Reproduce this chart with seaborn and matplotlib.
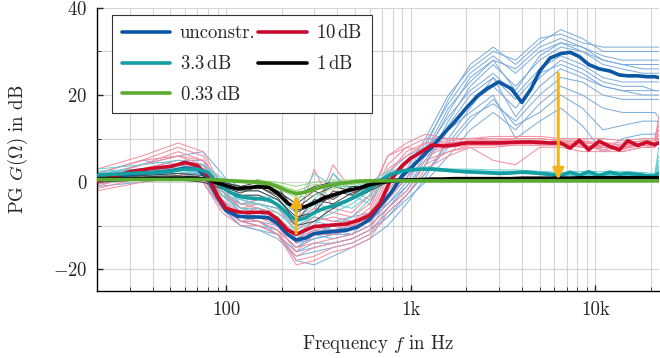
import matplotlib
matplotlib.use("Agg")
import matplotlib.pyplot as plt
import matplotlib.ticker as mticker
import seaborn as sns

# -----------------------
# Data
# -----------------------

FREQ = [20, 30, 40, 50, 60, 70, 80, 90, 100, 115, 130, 150, 170, 190, 215, 240, 270, 300,
        340, 390, 450, 520, 600, 680, 780, 900, 1000, 1150, 1300, 1500, 1700, 2000, 2300, 2600,
        3000, 3500, 4000, 4500, 5000, 5700, 6500, 7300, 8200, 9200, 10500, 12000, 13500, 15000,
        17000, 19000, 21000, 22050]

UNCONSTR = [0.5, 1.8, 2.2, 2.6, 3.2, 3.0, 0.6, -3.5,
            -6.5, -7.8, -8.0, -8.0, -8.2, -9.5, -12.0, -13.3, -12.8, -11.8,
            -11.5, -11.3, -11.0, -10.2, -8.5, -5.5, -2.5, 1.5,
            3.2, 5.8, 8.0, 11.0, 13.5, 17.0, 19.8, 21.5,
            23.0, 21.5, 18.3, 21.5, 25.5, 28.5, 29.5, 29.8,
            28.8, 27.0, 26.0, 25.5, 24.6, 24.4, 24.4, 24.2,
            24.2, 24.0]
DB10 = [0.2, 2.4, 3.2, 3.6, 4.5, 3.8, 1.4, -3.2,
        -6.0, -6.8, -7.0, -6.9, -7.0, -8.5, -11.0, -12.0, -11.0, -10.2,
        -10.0, -9.8, -9.6, -8.8, -7.6, -5.0, 0.5, 3.8,
        5.5, 7.0, 8.5, 8.3, 8.5, 9.0, 9.0, 9.0,
        9.0, 9.1, 9.2, 9.2, 9.1, 9.0, 9.0, 7.8,
        9.6, 7.4, 9.4, 8.2, 7.4, 9.5, 8.4, 9.2,
        8.6, 9.0]
DB3_3 = [1.6, 2.0, 2.2, 2.5, 3.0, 3.0, 2.2, -0.3,
         -1.8, -3.2, -3.6, -3.8, -4.0, -5.2, -7.2, -8.8, -8.2, -7.0,
         -6.0, -5.3, -4.3, -3.0, -1.5, 0.2, 1.8, 2.6,
         2.8, 3.0, 3.0, 2.8, 2.6, 2.4, 2.3, 2.2,
         2.0, 2.1, 2.3, 2.2, 2.0, 1.8, 1.5, 2.3,
         1.6, 2.4, 1.5, 2.3, 1.8, 2.0, 1.8, 1.5,
         1.4, 2.0]
DB1 = [0.8, 0.8, 0.8, 0.9, 0.9, 0.9, 0.6, -0.2,
       -0.8, -1.5, -1.3, -1.0, -1.2, -2.5, -4.8, -6.0, -5.6, -4.8,
       -3.6, -2.8, -2.0, -1.4, -0.6, -0.1, 0.2, 0.4,
       0.5, 0.6, 0.7, 0.7, 0.8, 0.8, 0.8, 0.8,
       0.8, 0.8, 0.9, 0.9, 0.9, 0.9, 0.9, 0.9,
       1.0, 1.0, 1.0, 1.0, 1.0, 1.0, 1.0, 1.0,
       1.0, 1.0]
DB0_33 = [0.6, 0.6, 0.6, 0.6, 0.6, 0.6, 0.6, 0.5,
          0.4, 0.2, 0.1, 0.0, -0.3, -1.0, -2.0, -2.6, -2.3, -1.6,
          -1.0, -0.5, -0.1, 0.2, 0.3, 0.3, 0.3, 0.3,
          0.3, 0.3, 0.3, 0.3, 0.3, 0.3, 0.3, 0.3,
          0.3, 0.3, 0.3, 0.3, 0.3, 0.3, 0.3, 0.3,
          0.3, 0.3, 0.3, 0.3, 0.3, 0.3, 0.3, 0.3,
          0.3, 0.3]

# individual runs, coarser frequency grid
FREQ_THIN = [20, 35, 55, 75, 95, 120, 150, 190, 240, 300, 380, 480, 600, 750, 950,
             1200, 1600, 2100, 2800, 3700, 5000, 6500, 8500, 11000, 14000, 18000, 21000, 22050]

UNCONSTR_RUNS = [
    [1.5, 4, 6, 7, 2, -4, -5, -6, -10, -8, -9, -8, -7, -2, 3, 10, 20, 26, 30, 28, 33, 34, 32, 31, 31, 31, 31, 31],
    [-1, 0, 1, 0, -6, -10, -11, -13, -17, -16, -15, -14, -12, -8, -4, 0, 6, 12, 16, 12, 18, 22, 20, 17, 16, 16, 16, 15],
    [2, 3, 4, 3, -3, -6, -7, -8, -12, -10, -11, -12, -10, -6, -1, 4, 14, 22, 27, 22, 28, 31, 30, 28, 27, 27, 27, 27],
    [0, 1, 2, 2, -5, -9, -9, -12, -16, -15, -14, -13, -11, -7, -3, 2, 9, 15, 18, 14, 20, 24, 23, 20, 19, 19, 19, 19],
    [1, 3, 5, 5, 0, -5, -4, -5, -9, -6, 2, -3, -5, 2, 6, 8, 12, 16, 20, 10, 14, 17, 13, 7, 10, 11, 11, 12],
    [0, 2, 3, 3, -4, -8, -9, -10, -14, -13, -12, -11, -9, -5, 0, 6, 16, 24, 28, 26, 31, 33, 31, 28, 27, 26, 26, 26],
    [1, 2, 2, 1, -6, -10, -11, -12, -18, -19, -17, -15, -13, -10, -5, 1, 10, 17, 24, 15, 22, 26, 24, 22, 21, 21, 21, 21],
    [0.5, 1, 3, 4, -3, -7, -6, -8, -13, -11, -12, -12, -8, -3, 2, 9, 18, 25, 29, 25, 30, 32, 30, 27, 26, 25, 25, 25],
    [2, 5, 4, 2, -6, -9, -8, -9, -14, -12, -10, -9, -8, -4, 1, 7, 15, 21, 25, 20, 26, 29, 27, 24, 23, 23, 23, 23],
    [-0.5, 1, 2, 1, -5, -8, -9, -11, -15, -12, -13, -12, -10, -6, -2, 4, 12, 18, 22, 17, 24, 28, 26, 23, 22, 22, 21, 21],
    [1, 3, 4, 3, -2, -7, -8, -9, -13, -10, -11, -10, -9, -4, 1, 8, 19, 27, 31, 27, 32, 35, 33, 30, 30, 30, 30, 30],
    [0, 1.5, 3, 2, -4, -9, -10, -11, -15, -13, -12, -11, -9, -5, -1, 5, 13, 20, 24, 19, 25, 27, 25, 22, 21, 20, 20, 20],
    [1.5, 2, 3, 4, -2, -6, -7, -9, -12, -9, -10, -11, -9, -4, 2, 7, 17, 23, 28, 21, 29, 32, 31, 29, 28, 28, 28, 28],
    [0, 0.5, 1, 1, -5, -9, -10, -12, -16, -14, -14, -13, -11, -8, -3, 2, 8, 14, 19, 13, 16, 20, 17, 12, 13, 14, 14, 14],
]
DB10_RUNS = [
    [2, 5, 8, 6, -2, -5, -4, -5, -9, -6, -7, -8, -5, 4, 8, 10, 10, 10, 10.5, 10.5, 10.5, 10, 10, 10, 9.5, 10, 10, 14],
    [-2, 0, 1, 0, -7, -10, -10, -12, -17, -15, -14, -13, -11, -4, 1, 5, 7, 8, 5, 4, 8, 8, 7, 7, 7, 8, 8, 9],
    [1, 4, 6, 4, -3, -5, -6, -7, -10, 3, -6, -7, -3, 6, 9, 11, 10, 10, 10, 10, 10, 9.5, 9, 9, 8.5, 9.5, 9, 12],
    [-1, 2, 3, 2, -6, -8, -9, -11, -15, -14, -13, -12, -10, -2, 3, 6, 8, 9, 9, 9, 9, 9, 8, 8, 7.5, 8.5, 8.5, 10],
    [0.5, 3, 5, 4, -4, -7, -6, -9, -13, -11, -10, -10, -8, 1, 5, 8, 9, 9.5, 9, 9, 9, 8.5, 9, 7, 8, 9, 8.5, 9],
    [-1.5, 1, 2, 1, -5, -8, -8, -10, -16, -12, -12, -11, -9, -3, 2, 7, 8, 8.5, 8.5, 8.5, 8.5, 8.5, 8, 8.5, 7, 8, 8, 11],
    [3, 6, 9, 7, -1, -6, -5, -6, -11, -8, -9, -9, -7, 2, 7, 9, 9, 9.5, 9.5, 9.5, 9.5, 9, 9.5, 8, 8.5, 9, 9, 15],
    [0, 2, 3, 2, -6, -9, -9, -11, -18, -17, -15, -14, -12, -6, -2, 4, 7, 8.5, 8.5, 9, 9, 9, 8.5, 8, 8, 8.5, 8.5, 10],
    [1, 4, 7, 5, -3, -5, -5, -6, -9, -7, 4, -2, -4, 6, 8, 7, 9, 9, 9, 9.5, 9.5, 9, 8, 8.5, 7.5, 9, 9, 10],
    [-0.5, 2, 4, 3, -5, -7, -8, -9, -14, -11, -11, -10, -9, 0, 4, 8, 8.5, 9, 9, 9, 9, 8.5, 9, 8.5, 8, 9, 8.5, 11],
    [0, 1, 2, 1, -6, -9, -10, -12, -19, -18, -16, -15, -13, -7, -3, 3, 6, 8, 8, 8.5, 8.5, 8.5, 8.5, 7.5, 8, 8.5, 8, 9],
    [2, 5, 6, 5, -2, -6, -6, -8, -12, -9, -8, -9, -6, 3, 6, 9, 9.5, 10, 9.5, 10, 10, 9.5, 9.5, 9, 9, 9.5, 9.5, 13],
]
DB3_3_RUNS = [
    [3, 4, 5, 4, 1, -1, -1, -2, -5, 2, -1, -1, 0, 2.5, 3, 3.5, 3, 3, 2.8, 2.8, 2.5, 2.2, 2.5, 2.4, 2.5, 2.2, 2, 6],
    [0, 1, 1, 2, -3, -6, -6, -8, -13, -12, -10, -8, -4, 1, 2.5, 2.8, 2.4, 2, 1.8, 2, 1.8, 1.2, 1.5, 1.5, 1.6, 1.4, 1.2, 3],
    [2, 3, 4, 4, 0, -3, -3, -4, -7, -4, 0, -3, -1, 2, 2.8, 3.2, 2.8, 2.5, 2.4, 2.4, 2.2, 1.8, 2, 2, 2, 1.8, 1.5, 8],
    [1, 1.5, 2, 3, -2, -5, -5, -7, -11, -9, -7, -5, -2, 1.5, 2.5, 2.9, 2.5, 2.2, 2, 2.1, 1.9, 1.4, 1.7, 1.6, 1.8, 1.5, 1.3, 4],
    [2.5, 3, 3, 2, -1, -2, -2, -4, -9, -5, -6, -4, -2, 2, 2.6, 3, 2.7, 2.4, 2.3, 2.3, 2.1, 1.6, 1.9, 1.8, 2, 1.7, 1.4, 2.5],
    [0.5, 1, 2, 2.5, -3, -4, -5, -6, -10, -8, 2, -2, -1, 1.8, 2.7, 3, 2.6, 2.3, 2.1, 2.2, 2, 1.5, 1.8, 1.8, 1.9, 1.6, 1.4, 5],
    [1.5, 2.5, 3.5, 3, -1.5, -3, -4, -5, -12, -10, -5, -6, -3, 1, 2.4, 3.1, 2.6, 2.2, 2.2, 2.2, 2, 1.6, 1.8, 1.7, 1.9, 1.6, 1.3, 3.5],
]
DB1_RUNS = [
    [1.5, 1.5, 2, 1.5, 0.5, 0, 0.5, -1, -3, -1, 0, 0, 0.5, 0.8, 0.8, 0.8, 0.9, 0.9, 1, 1, 1, 1, 1, 1, 1, 1, 1, 1.2],
    [0, 0.5, 0.5, 0, -1.5, -3, -3, -5, -10, -9, -6, -4, -2, 0, 0.3, 0.5, 0.6, 0.7, 0.8, 0.8, 0.8, 0.8, 0.8, 0.8, 0.9, 0.9, 0.9, 1],
    [1, 1, 1, 1, 0, -1, 0, -2, -5, -2, -4, -1, -1, 0.5, 0.6, 0.7, 0.8, 0.8, 0.9, 0.9, 0.9, 0.9, 0.9, 1, 1, 1, 1, 1],
    [0.5, 0.5, 1, 0.5, -1, -2, -2, -4, -8, -7, -2, -3, -0.5, 0.3, 0.5, 0.6, 0.7, 0.8, 0.8, 0.9, 0.9, 0.9, 0.9, 0.9, 0.9, 1, 1, 1],
    [1.2, 1.2, 1.5, 1, 0, -1, -1, -3, -6, -3, -1, -2, 0, 0.6, 0.7, 0.7, 0.8, 0.9, 1, 1, 1, 1, 1, 1, 1, 1, 1.1, 1.1],
    [0.2, 0.8, 0.8, 0.5, -0.5, -1.5, -1.5, -1, -7, -5, -3.5, -1, -1.5, 0.2, 0.4, 0.6, 0.7, 0.8, 0.9, 0.9, 0.9, 0.9, 0.9, 0.9, 1, 1, 1, 1],
    [0.8, 1, 1.2, 1, -1, -2.5, -1, -3.5, -9, -4, -5, -2.5, -1, 0.4, 0.5, 0.6, 0.7, 0.8, 0.9, 0.9, 0.9, 0.9, 0.9, 0.9, 1, 1, 1, 1],
]
DB0_33_RUNS = [
    [0.8, 0.8, 0.9, 0.8, 0.6, 0.5, 0.4, 0.0, -1.0, 0.0, 0.5, 0.5, 0.5, 0.5, 0.5, 0.5, 0.5, 0.5, 0.5, 0.5, 0.5, 0.5, 0.5, 0.5, 0.5, 0.5, 0.5, 0.5],
    [0.4, 0.4, 0.4, 0.4, 0.2, 0.0, -0.4, -1.5, -3.5, -3.0, -1.5, -0.5, 0.0, 0.2, 0.3, 0.3, 0.3, 0.2, 0.2, 0.2, 0.2, 0.2, 0.2, 0.2, 0.2, 0.2, 0.2, 0.2],
    [0.6, 0.7, 0.7, 0.6, 0.4, 0.2, 0.0, -0.5, -2.0, -0.5, -1.0, 0.0, 0.3, 0.4, 0.4, 0.4, 0.4, 0.4, 0.4, 0.4, 0.4, 0.4, 0.4, 0.4, 0.4, 0.4, 0.4, 0.4],
    [0.5, 0.5, 0.5, 0.5, 0.3, 0.0, -0.5, -1.0, -3.0, -2.0, 0.0, -0.5, 0.2, 0.3, 0.3, 0.3, 0.3, 0.3, 0.3, 0.3, 0.3, 0.3, 0.3, 0.3, 0.3, 0.3, 0.3, 0.3],
]

LABELS = ["unconstr.", r"$10\,\mathrm{dB}$", r"$3.3\,\mathrm{dB}$", r"$1\,\mathrm{dB}$", r"$0.33\,\mathrm{dB}$"]

# arrows (frequency, start, end)
ARROW_F = [240, 6300]
ARROW_FROM = [-11.8, 25.0]
ARROW_TO = [-3.0, 0.6]

# -----------------------
# Style
# -----------------------

sns.set_style("ticks")
plt.rcParams["font.family"] = "serif"
plt.rcParams["font.serif"] = ["cmr10", "DejaVu Serif"]
plt.rcParams["mathtext.fontset"] = "cm"
plt.rcParams["axes.formatter.use_mathtext"] = True
plt.rcParams["axes.unicode_minus"] = True

FS = 13.5
THICK = ["#0b57a4", "#cc0a2a", "#139ea2", "#000000", "#5bab30"]
THIN = ["#77aadd", "#f48a9c", "#62cfd2", "#444444", "#9bd47f"]

fig = plt.figure(figsize=(6.6, 3.58), dpi=100)
ax = fig.add_axes([0.147, 0.187, 0.851, 0.791])
ax.set_xscale("log")

thick_series = [UNCONSTR, DB10, DB3_3, DB1, DB0_33]
thin_series = [UNCONSTR_RUNS, DB10_RUNS, DB3_3_RUNS, DB1_RUNS, DB0_33_RUNS]

for runs, col in zip(thin_series, THIN):
    for run in runs:
        sns.lineplot(x=FREQ_THIN, y=run, ax=ax, color=col, lw=0.7, legend=False, zorder=2)

for vals, col, lab in zip(thick_series, THICK, LABELS):
    sns.lineplot(x=FREQ, y=vals, ax=ax, color=col, lw=2.6, label=lab, zorder=3)

for f, y0, y1 in zip(ARROW_F, ARROW_FROM, ARROW_TO):
    ax.annotate("", xy=(f, y1), xytext=(f, y0),
                arrowprops=dict(arrowstyle="-|>", color="#f2b31b", lw=2.2,
                                mutation_scale=16, shrinkA=0, shrinkB=0),
                zorder=5)

# -----------------------
# Axes
# -----------------------

ax.set_xlim(20, 22050)
ax.set_ylim(-25, 40)
ax.set_xticks([100, 1000, 10000], labels=["100", "1k", "10k"])
ax.xaxis.set_minor_locator(mticker.LogLocator(base=10, subs=range(2, 10)))
ax.xaxis.set_minor_formatter(mticker.NullFormatter())
ax.set_yticks([-20, 0, 20, 40])
ax.yaxis.set_minor_locator(mticker.MultipleLocator(10))

ax.grid(True, which="both", color="#d4d4d4", lw=0.8)
ax.set_axisbelow(True)
ax.tick_params(which="both", direction="in", labelsize=FS, top=False, right=False)
ax.tick_params(which="major", length=4, width=1.0, pad=7)
ax.tick_params(which="minor", length=3, width=0.6)

for s in ["top", "right"]:
    ax.spines[s].set_visible(False)
for s in ["left", "bottom"]:
    ax.spines[s].set_linewidth(1.0)
    ax.spines[s].set_color("black")

ax.set_xlabel(r"Frequency $f$ in Hz", fontsize=FS, labelpad=10)
ax.set_ylabel(r"PG $G(\Omega)$ in dB", fontsize=FS, labelpad=16)

handles, labels = ax.get_legend_handles_labels()
order = [0, 2, 4, 1, 3]
leg = ax.legend([handles[i] for i in order], [labels[i] for i in order],
                ncol=2, loc="upper left", bbox_to_anchor=(0.027, 0.975),
                fontsize=FS, frameon=True, fancybox=False, framealpha=1,
                edgecolor="#333333", handlelength=2.6, columnspacing=0.15,
                labelspacing=0.68, borderpad=0.5, handletextpad=0.5, borderaxespad=0)
leg.get_frame().set_linewidth(0.8)

plt.savefig("out.png", dpi=100)
